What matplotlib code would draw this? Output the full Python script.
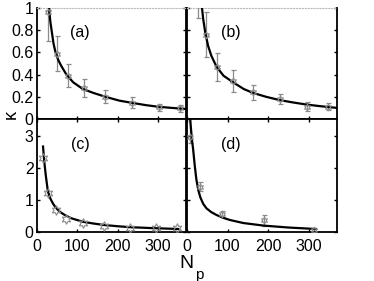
import numpy as np
import matplotlib
matplotlib.use('Agg')
import matplotlib.pyplot as plt

plt.rcParams['font.family'] = ['Liberation Sans', 'DejaVu Sans']

# panel (a)
a_x = [27, 49, 78, 117, 170, 237, 302, 355]
a_y = [0.96, 0.59, 0.39, 0.28, 0.20, 0.147, 0.105, 0.096]
a_lo = [0.26, 0.155, 0.105, 0.08, 0.06, 0.048, 0.03, 0.033]
a_hi = [0.02, 0.155, 0.105, 0.08, 0.06, 0.048, 0.03, 0.033]
a_fit_x = [30, 33, 37, 41, 46, 53, 60, 73, 90, 114, 140, 170, 205, 237, 270, 302, 335, 370]
a_fit_y = [1.0, 0.88, 0.78, 0.68, 0.60, 0.53, 0.48, 0.40, 0.33, 0.27, 0.235, 0.20, 0.165,
           0.145, 0.125, 0.11, 0.10, 0.09]

# panel (b)
b_x = [26, 46, 74, 113, 163, 229, 295, 349]
b_y = [1.10, 0.76, 0.47, 0.34, 0.24, 0.18, 0.11, 0.11]
b_err = [0.19, 0.20, 0.125, 0.10, 0.065, 0.045, 0.04, 0.033]
b_fit_x = [37, 40, 45, 52, 60, 73, 90, 114, 140, 163, 195, 229, 260, 295, 330, 370]
b_fit_y = [1.0, 0.90, 0.78, 0.66, 0.57, 0.47, 0.39, 0.33, 0.27, 0.235, 0.20, 0.17,
           0.15, 0.13, 0.115, 0.10]

# panel (c)
c_x = [16, 27, 46, 73, 114, 166, 232, 295, 347]
c_y = [2.30, 1.21, 0.69, 0.41, 0.27, 0.19, 0.135, 0.115, 0.115]
c_fit_x = [15, 17, 19, 22, 27, 33, 40, 48, 58, 69, 85, 114, 140, 166, 200, 232, 290, 351]
c_fit_y = [2.67, 2.35, 2.09, 1.75, 1.27, 1.05, 0.88, 0.74, 0.62, 0.53, 0.43, 0.32,
           0.265, 0.22, 0.18, 0.15, 0.12, 0.094]

# panel (d)
d_x = [8, 33, 87, 189, 313]
d_y = [2.98, 1.42, 0.56, 0.37, 0.06]
d_lo = [0.2, 0.15, 0.1, 0.17, 0.03]
d_hi = [0.6, 0.15, 0.1, 0.17, 0.03]
d_fit_x = [8, 10, 12, 15, 19, 23, 28, 33, 40, 48, 60, 73, 90, 106, 139, 189, 250, 318]
d_fit_y = [3.5, 3.2, 2.9, 2.6, 2.09, 1.65, 1.30, 1.08, 0.88, 0.74, 0.62, 0.53, 0.44,
           0.375, 0.28, 0.20, 0.14, 0.094]

x_ticks = [0, 100, 200, 300]
top_yticks = [0, 0.2, 0.4, 0.6, 0.8, 1]
top_ylabels = ['0', '0.2', '0.4', '0.6', '0.8', '1']
bot_yticks = [0, 1, 2, 3]

grey = '#8a8a8a'
star = (6, 1, 0)

fig = plt.figure(figsize=(3.74, 2.81), dpi=100)
W, H = 374.0, 281.0
ax_a = fig.add_axes([37 / W, 1 - 119 / H, 149 / W, 111 / H])
ax_b = fig.add_axes([187 / W, 1 - 119 / H, 150 / W, 111 / H])
ax_c = fig.add_axes([37 / W, 1 - 232 / H, 149 / W, 113 / H])
ax_d = fig.add_axes([187 / W, 1 - 232 / H, 150 / W, 113 / H])


def style(ax, top_row, left_col):
    ax.set_xlim(0, 370)
    ax.set_xticks(x_ticks)
    if top_row:
        ax.set_ylim(0, 1.0)
        ax.set_yticks(top_yticks)
        ax.set_yticklabels(top_ylabels)
        ax.set_xticklabels([])
        ax.spines['top'].set_color('#bbbbbb')
        ax.spines['top'].set_linestyle(':')
        ax.spines['top'].set_linewidth(0.8)
    else:
        ax.set_ylim(0, 3.53)
        ax.set_yticks(bot_yticks)
    if not left_col:
        ax.set_yticklabels([])
    for s in ['bottom', 'left', 'right']:
        ax.spines[s].set_linewidth(1.3)
    if not top_row:
        ax.spines['top'].set_linewidth(1.3)
    ax.tick_params(direction='in', length=2.5, width=1, labelsize=11.5,
                   top=not top_row, right=True, pad=2.5)
    ax.tick_params(axis='x', pad=5)


def draw(ax, x, y, lo, hi, fx, fy, ms, label, ly):
    if lo is not None:
        ax.errorbar(x, y, yerr=[lo, hi], fmt='none', ecolor=grey, elinewidth=0.9,
                    capsize=1.8, capthick=0.9, zorder=2)
    ax.plot(fx, fy, color='black', lw=1.6, zorder=3)
    ax.plot(x, y, linestyle='none', marker=star, markersize=ms, markerfacecolor='none',
            markeredgecolor=grey, markeredgewidth=0.8, zorder=4)
    ax.text(107, ly, label, fontsize=11.5, ha='center', va='center')


draw(ax_a, a_x, a_y, a_lo, a_hi, a_fit_x, a_fit_y, 5, '(a)', 0.775)
draw(ax_b, b_x, b_y, b_err, b_err, b_fit_x, b_fit_y, 5, '(b)', 0.775)
draw(ax_c, c_x, c_y, None, None, c_fit_x, c_fit_y, 7, '(c)', 2.72)
draw(ax_d, d_x, d_y, d_lo, d_hi, d_fit_x, d_fit_y, 5, '(d)', 2.72)

style(ax_a, True, True)
style(ax_b, True, False)
style(ax_c, False, True)
style(ax_d, False, False)

fig.text(11 / W, 1 - 114 / H, 'κ', rotation=90, fontsize=13, ha='center', va='center')
fig.text(186 / W, 1 - 264 / H, 'N', fontsize=14, ha='center', va='center')
fig.text(199 / W, 1 - 275 / H, 'p', fontsize=11, ha='center', va='center')

fig.savefig('out.png', dpi=100)
